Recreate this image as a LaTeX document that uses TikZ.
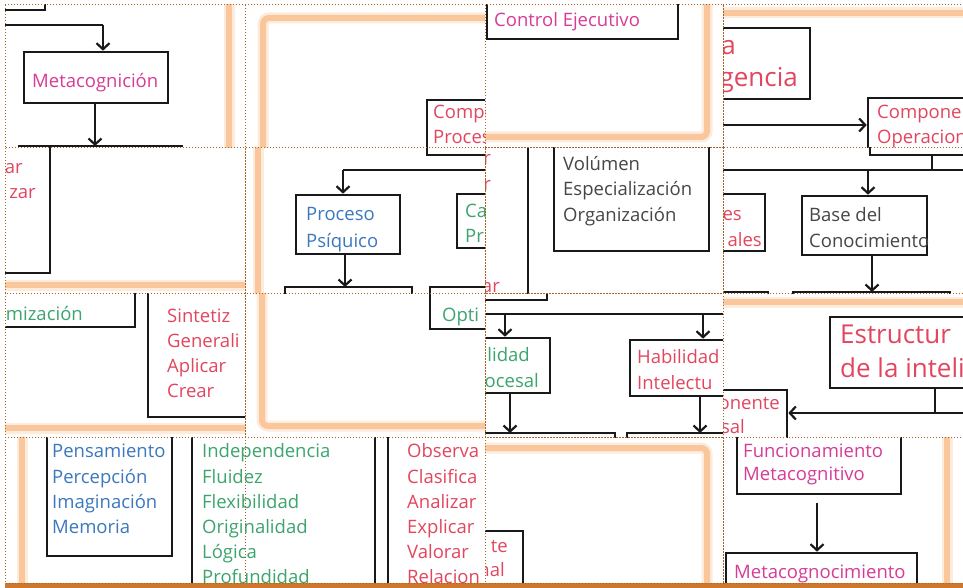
\documentclass[tikz,border=0pt]{standalone}
\usepackage{fontspec}
\setmainfont{Open Sans}
\usetikzlibrary{arrows.meta,fit}
\definecolor{cmag}{RGB}{214,60,150}
\definecolor{cred}{RGB}{226,70,95}
\definecolor{cblue}{RGB}{60,120,190}
\definecolor{cgreen}{RGB}{60,165,110}
\definecolor{cgray}{RGB}{70,70,70}
\definecolor{corange}{RGB}{250,198,155}
\definecolor{cdot}{RGB}{165,100,35}
\definecolor{cbrown}{RGB}{205,120,45}
\tikzset{
 boxst/.style={draw=black!90, line width=2.6pt, inner sep=0pt, rectangle},
 ln/.style={draw=black!90, line width=2.6pt},
 arr/.style={ln, -{Straight Barb[length=6pt,width=13pt,line width=2.2pt]}},
 orng/.style={line width=6pt, draw=corange},
 glow/.style={line width=11pt, draw=corange!35},
 tilest/.style={draw=cdot, line width=1pt, dotted},
 tx/.style={anchor=base west, inner sep=0pt, font=\fontsize{18.5}{22}\selectfont},
 txe/.style={tx, anchor=base east},
 big/.style={font=\fontsize{26}{30}\selectfont}
}
\begin{document}
\begin{tikzpicture}[x=1pt,y=-1pt]
\useasboundingbox (0,0) rectangle (963,588);
\fill[white] (0,0) rectangle (963,588);

% ---- T11
\begin{scope}
\clip (5,5) rectangle (245,148);
\draw[glow] (229,0) -- (229,150); \draw[orng] (229,0) -- (229,150);
\draw[ln] (0,10) -- (45,10) -- (45,0);
\node[boxst, fit={(24,52)(168,103)}] (meta) {};
\node[tx, text=cmag] (metat) at (32,88) {Metacognición};
\coordinate (j1) at (103,25);
\draw[ln] (0,25) -- (j1);
\draw[arr] (j1) -- (j1 |- meta.north);
\coordinate (b1) at (95,146);
\draw[arr] (meta.south -| b1) -- (b1);
\draw[ln] (18,146) -- (183,146);
\end{scope}

% ---- T12
\begin{scope}
\clip (245,5) rectangle (485,148);
\draw[glow, rounded corners=6pt] (263,160) -- (263,18) -- (500,18);
\draw[orng, rounded corners=6pt] (263,160) -- (263,18) -- (500,18);
\node[boxst, fit={(427,100)(540,155)}] (compp) {};
\node[tx, text=cred] (t12a) at (433,119) {Compo};
\node[tx, text=cred] (t12b) at (433,144) {Proces};
\end{scope}

% ---- T13
\begin{scope}
\clip (485,5) rectangle (723,148);
\draw[glow, rounded corners=6pt] (707,-10) -- (707,137) -- (470,137);
\draw[orng, rounded corners=6pt] (707,-10) -- (707,137) -- (470,137);
\node[boxst, fit={(487,-20)(678,39)}] (ctrl) {};
\node[tx, text=cmag] (ctrlt) at (494,27) {Control Ejecutivo};
\end{scope}

% ---- T14
\begin{scope}
\clip (723,5) rectangle (963,148);
\draw[glow] (700,13) -- (980,13); \draw[orng] (700,13) -- (980,13);
\node[boxst, fit={(650,28)(810,99)}] (teo) {};
\node[txe, big, text=cred] (teoa) at (736,55) {a};
\node[txe, big, text=cred] (teob) at (798,87) {gencia};
\node[boxst, fit={(868,98)(1000,155)}] (compo) {};
\coordinate (h1) at (700,125);
\draw[arr] (h1) -- (h1 -| compo.west);
\node[tx, text=cred] (t14a) at (877,119) {Componen};
\node[tx, text=cred] (t14b) at (877,144) {Operacion};
\end{scope}

% ---- T21
\begin{scope}
\clip (5,148) rectangle (245,293);
\draw[glow] (0,285) -- (260,285); \draw[orng] (0,285) -- (260,285);
\node[txe, text=cred] (t21a) at (23,174) {ar};
\node[txe, text=cred] (t21b) at (36,199) {zar};
\draw[ln] (50,140) -- (50,273) -- (0,273);
\end{scope}

% ---- T22
\begin{scope}
\clip (245,148) rectangle (485,293);
\draw[glow] (258,140) -- (258,300); \draw[orng] (258,140) -- (258,300);
\draw[ln] (427,140) -- (427,155) -- (500,155);
\coordinate (j2) at (343,170);
\draw[ln] (j2) -- (500,170);
\node[boxst, fit={(296,195)(400,254)}] (psi) {};
\draw[arr] (j2) -- (j2 |- psi.north);
\node[tx, text=cblue] (psia) at (306,220) {Proceso};
\node[tx, text=cblue] (psib) at (306,247) {Psíquico};
\coordinate (b2) at (345,287);
\draw[arr] (psi.south -| b2) -- (b2);
\draw[ln] (285,300) -- (285,287) -- (412,287) -- (412,300);
\draw[ln] (430,300) -- (430,287) -- (500,287);
\node[boxst, fit={(457,194)(520,248)}] (cap) {};
\node[tx, text=cgreen] (capa) at (465,217) {Ca};
\node[tx, text=cgreen] (capb) at (465,242) {Pr};
\end{scope}

% ---- T23
\begin{scope}
\clip (485,148) rectangle (723,293);
\node[txe, text=cred] (t23a) at (491,165) {r};
\node[txe, text=cred] (t23b) at (491,190) {r};
\node[txe, text=cred] (t23c) at (500,292) {ar};
\draw[ln] (528,140) -- (528,300);
\node[boxst, fit={(554,130)(709,251)}] (vol) {};
\node[tx, text=cgray] (vola) at (563,171) {Volúmen};
\node[tx, text=cgray] (volb) at (563,196) {Especialización};
\node[tx, text=cgray] (volc) at (563,221) {Organización};
\end{scope}

% ---- T24
\begin{scope}
\clip (723,148) rectangle (963,293);
\draw[ln] (870,140) -- (870,155) -- (980,155);
\coordinate (v1) at (932,155);
\draw[ln] (v1) -- (932,170);
\draw[ln] (700,170) -- (980,170);
\node[boxst, fit={(802,196)(927,255)}] (base) {};
\coordinate (j3) at (868,170);
\draw[arr] (j3) -- (j3 |- base.north);
\node[boxst, fit={(650,194)(765,251)}] (comps) {};
\node[txe, text=cred] (compsa) at (742,220) {es};
\node[txe, text=cred] (compsb) at (762,246) {ales};
\node[tx, text=cgray] (basea) at (809,222) {Base del};
\node[tx, text=cgray] (baseb) at (809,247) {Conocimiento};
\coordinate (b3) at (872,292);
\draw[arr] (base.south -| b3) -- (b3);
\draw[ln] (793,300) -- (793,292) -- (950,292) -- (950,300);
\draw[ln] (700,292) -- (768,292) -- (768,300);
\end{scope}

% ---- T31
\begin{scope}
\clip (5,293) rectangle (245,437);
\draw[glow] (0,428) -- (260,428); \draw[orng] (0,428) -- (260,428);
\draw[ln] (0,327) -- (135,327) -- (135,285);
\node[txe, text=cgreen] (t31a) at (83,320) {mización};
\draw[ln] (148,285) -- (148,417) -- (260,417);
\node[tx, text=cred] (s1) at (167,322) {Sintetiz};
\node[tx, text=cred] (s2) at (167,347) {Generali};
\node[tx, text=cred] (s3) at (167,372) {Aplicar};
\node[tx, text=cred] (s4) at (167,397) {Crear};
\end{scope}

% ---- T32
\begin{scope}
\clip (245,293) rectangle (485,437);
\draw[glow, rounded corners=6pt] (262,285) -- (262,426) -- (500,426);
\draw[orng, rounded corners=6pt] (262,285) -- (262,426) -- (500,426);
\node[boxst, fit={(430,287)(520,329)}] (opti) {};
\node[tx, text=cgreen] (optit) at (442,321) {Opti};
\end{scope}

% ---- T33
\begin{scope}
\clip (485,293) rectangle (723,437);
\draw[ln] (470,300) -- (547,300) -- (547,285);
\draw[ln] (470,314) -- (740,314);
\node[boxst, fit={(440,338)(550,393)}] (hproc) {};
\coordinate (j4) at (505,314);
\draw[arr] (j4) -- (j4 |- hproc.north);
\node[txe, text=cgreen] (hpa) at (530,361) {lidad};
\node[txe, text=cgreen] (hpb) at (539,387) {ocesal};
\coordinate (b4) at (510,433);
\draw[arr] (hproc.south -| b4) -- (b4);
\draw[ln] (470,433) -- (615,433) -- (615,445);
\node[boxst, fit={(630,340)(800,396)}] (hint) {};
\coordinate (j5) at (703,314);
\draw[arr] (j5) -- (j5 |- hint.north);
\node[tx, text=cred] (hia) at (637,363) {Habilidad};
\node[tx, text=cred] (hib) at (637,389) {Intelectu};
\coordinate (b5) at (700,433);
\draw[arr] (hint.south -| b5) -- (b5);
\draw[ln] (627,445) -- (627,433) -- (740,433);
\end{scope}

% ---- T34
\begin{scope}
\clip (723,293) rectangle (963,437);
\draw[glow] (700,302) -- (980,302); \draw[orng] (700,302) -- (980,302);
\node[boxst, fit={(830,317)(1100,388)}] (estr) {};
\node[tx, big, text=cred] (estra) at (840,343) {Estructur};
\node[tx, big, text=cred] (estrb) at (840,377) {de la inteli};
\node[boxst, fit={(650,390)(787,460)}] (cproc) {};
\coordinate (v2) at (935,413);
\draw[ln] (estr.south -| v2) -- (v2);
\coordinate (e2) at (980,413);
\draw[arr] (e2) -- (cproc.east |- v2);
\node[txe, text=cred] (cpa) at (780,409) {onente};
\node[txe, text=cred] (cpb) at (745,433) {sal};
\end{scope}

% ---- T41 + T42
\begin{scope}
\clip (5,437) rectangle (485,583);
\draw[glow] (22,430) -- (22,590); \draw[orng] (22,430) -- (22,590);
\node[boxst, fit={(47,420)(172,556)}] (pens) {};
\node[tx, text=cblue] (p1) at (52,457) {Pensamiento};
\node[tx, text=cblue] (p2) at (52,483) {Percepción};
\node[tx, text=cblue] (p3) at (52,508) {Imaginación};
\node[tx, text=cblue] (p4) at (52,533) {Memoria};
\draw[ln] (192,430) -- (192,590);
\node[tx, text=cgreen] (g1) at (202,457) {Independencia};
\node[tx, text=cgreen] (g2) at (202,483) {Fluidez};
\node[tx, text=cgreen] (g3) at (202,508) {Flexibilidad};
\node[tx, text=cgreen] (g4) at (202,533) {Originalidad};
\node[tx, text=cgreen] (g5) at (202,558) {Lógica};
\node[tx, text=cgreen] (g6) at (202,583) {Profundidad};
\draw[ln] (375,430) -- (375,590);
\draw[ln] (388,430) -- (388,590);
\node[tx, text=cred] (r1) at (407,457) {Observa};
\node[tx, text=cred] (r2) at (407,483) {Clasifica};
\node[tx, text=cred] (r3) at (407,508) {Analizar};
\node[tx, text=cred] (r4) at (407,533) {Explicar};
\node[tx, text=cred] (r5) at (407,558) {Valorar};
\node[tx, text=cred] (r6) at (407,583) {Relacion};
\end{scope}

% ---- T43
\begin{scope}
\clip (485,437) rectangle (723,583);
\draw[glow, rounded corners=6pt] (470,448) -- (707,448) -- (707,590);
\draw[orng, rounded corners=6pt] (470,448) -- (707,448) -- (707,590);
\node[boxst, fit={(440,531)(523,600)}] (cp2) {};
\node[txe, text=cred] (cp2a) at (508,552) {te};
\node[txe, text=cred] (cp2b) at (505,576) {nal};
\end{scope}

% ---- T44
\begin{scope}
\clip (723,437) rectangle (963,583);
\draw[glow] (947,430) -- (947,590); \draw[orng] (947,430) -- (947,590);
\node[boxst, fit={(737,420)(901,494)}] (func) {};
\node[tx, text=cmag] (funca) at (743,457) {Funcionamiento};
\node[tx, text=cmag] (funcb) at (743,480) {Metacognitivo};
\node[boxst, fit={(726,553)(917,620)}] (mcon) {};
\coordinate (a6) at (817,503);
\draw[arr] (a6) -- (a6 |- mcon.north);
\node[tx, text=cmag] (mcont) at (734,578) {Metacognocimiento};
\end{scope}

% ---- tile borders and bottom band
\fill[cbrown] (5,583) rectangle (963,588);
\foreach \xa/\xb in {5/245,245/485,485/723,723/963}{
  \foreach \ya/\yb in {5/148,148/293,293/437,437/583}{
    \draw[tilest] (\xa,\ya) rectangle (\xb,\yb);
  }
}
\end{tikzpicture}
\end{document}
